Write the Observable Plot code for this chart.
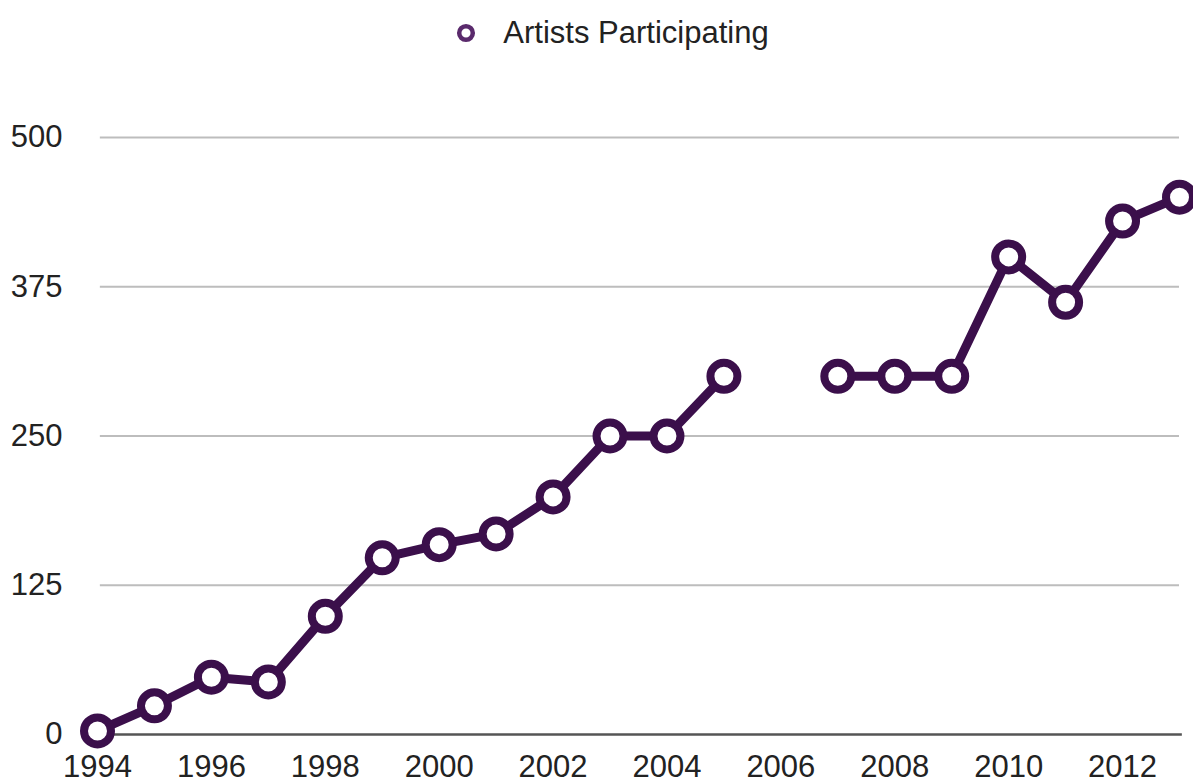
<!DOCTYPE html>
<html>
<head>
<meta charset="utf-8">
<script src="https://cdn.jsdelivr.net/npm/d3@7"></script>
<script src="https://cdn.jsdelivr.net/npm/@observablehq/plot@0.6"></script>
<style>
  html, body { margin: 0; padding: 0; background: #fff; }
  body { width: 1193px; height: 783px; overflow: hidden; font-family: "Liberation Sans", Arial, Helvetica, sans-serif; }
  #legend { height: 66px; display: flex; align-items: center; justify-content: center; padding-left: 32px; box-sizing: border-box; font-size: 31px; color: #222; }
  #legend svg { margin-right: 27px; }
</style>
</head>
<body>
<div id="legend"></div>
<div id="chart"></div>
<script>
const seriesName = "Artists Participating";
const years = [1994, 1995, 1996, 1997, 1998, 1999, 2000, 2001, 2002, 2003, 2004, 2005, 2006, 2007, 2008, 2009, 2010, 2011, 2012, 2013];
const artists = [3, 24, 48, 44, 99, 148, 159, 168, 199, 250, 250, 300, null, 300, 300, 300, 400, 362, 430, 450];
const yTicks = [0, 125, 250, 375, 500];
const xTicks = [1994, 1996, 1998, 2000, 2002, 2004, 2006, 2008, 2010, 2012];

const color = "#3b0f4b";
const data = years.map((y, i) => ({year: y, value: artists[i]}));

// legend
const leg = document.getElementById("legend");
leg.innerHTML = `<svg width="20" height="20" viewBox="0 0 20 20"><circle cx="10" cy="10" r="6.8" fill="#fff" stroke="#5a2a6c" stroke-width="4.5"/></svg><span>${seriesName}</span>`;

const chart = Plot.plot({
  width: 1193,
  height: 717,
  marginTop: 71,
  marginBottom: 49,
  marginLeft: 97,
  marginRight: 14,
  style: {fontFamily: "'Liberation Sans', Arial, Helvetica, sans-serif", fontSize: "31px", color: "#222", background: "#fff"},
  x: {domain: [1994, 2013], ticks: xTicks, tickFormat: d => String(d), tickSize: 0, tickPadding: 20, label: null},
  y: {domain: [0, 500], ticks: yTicks, tickSize: 0, tickPadding: 35, label: null},
  marks: [
    Plot.ruleY(yTicks.filter(d => d > 0), {stroke: "#bdbdbd", strokeWidth: 2, x1: 1994.05, x2: 2013}),
    Plot.ruleY([0], {stroke: "#555", strokeWidth: 2.5, x1: 1994, x2: 2013.05}),
    Plot.axisX({ticks: xTicks, tickFormat: d => String(d), tickSize: 0, tickPadding: 20, fontSize: 31, fill: "#222"}),
    Plot.axisY({ticks: yTicks, tickSize: 0, tickPadding: 35, fontSize: 31, fill: "#222"}),
    Plot.line(data, {x: "year", y: "value", stroke: color, strokeWidth: 9, strokeLinejoin: "round"}),
    Plot.dot(data.filter(d => d.value != null), {x: "year", y: "value", r: 13.5, fill: "#fff", stroke: color, strokeWidth: 8})
  ]
});
document.getElementById("chart").appendChild(chart);
</script>
</body>
</html>
